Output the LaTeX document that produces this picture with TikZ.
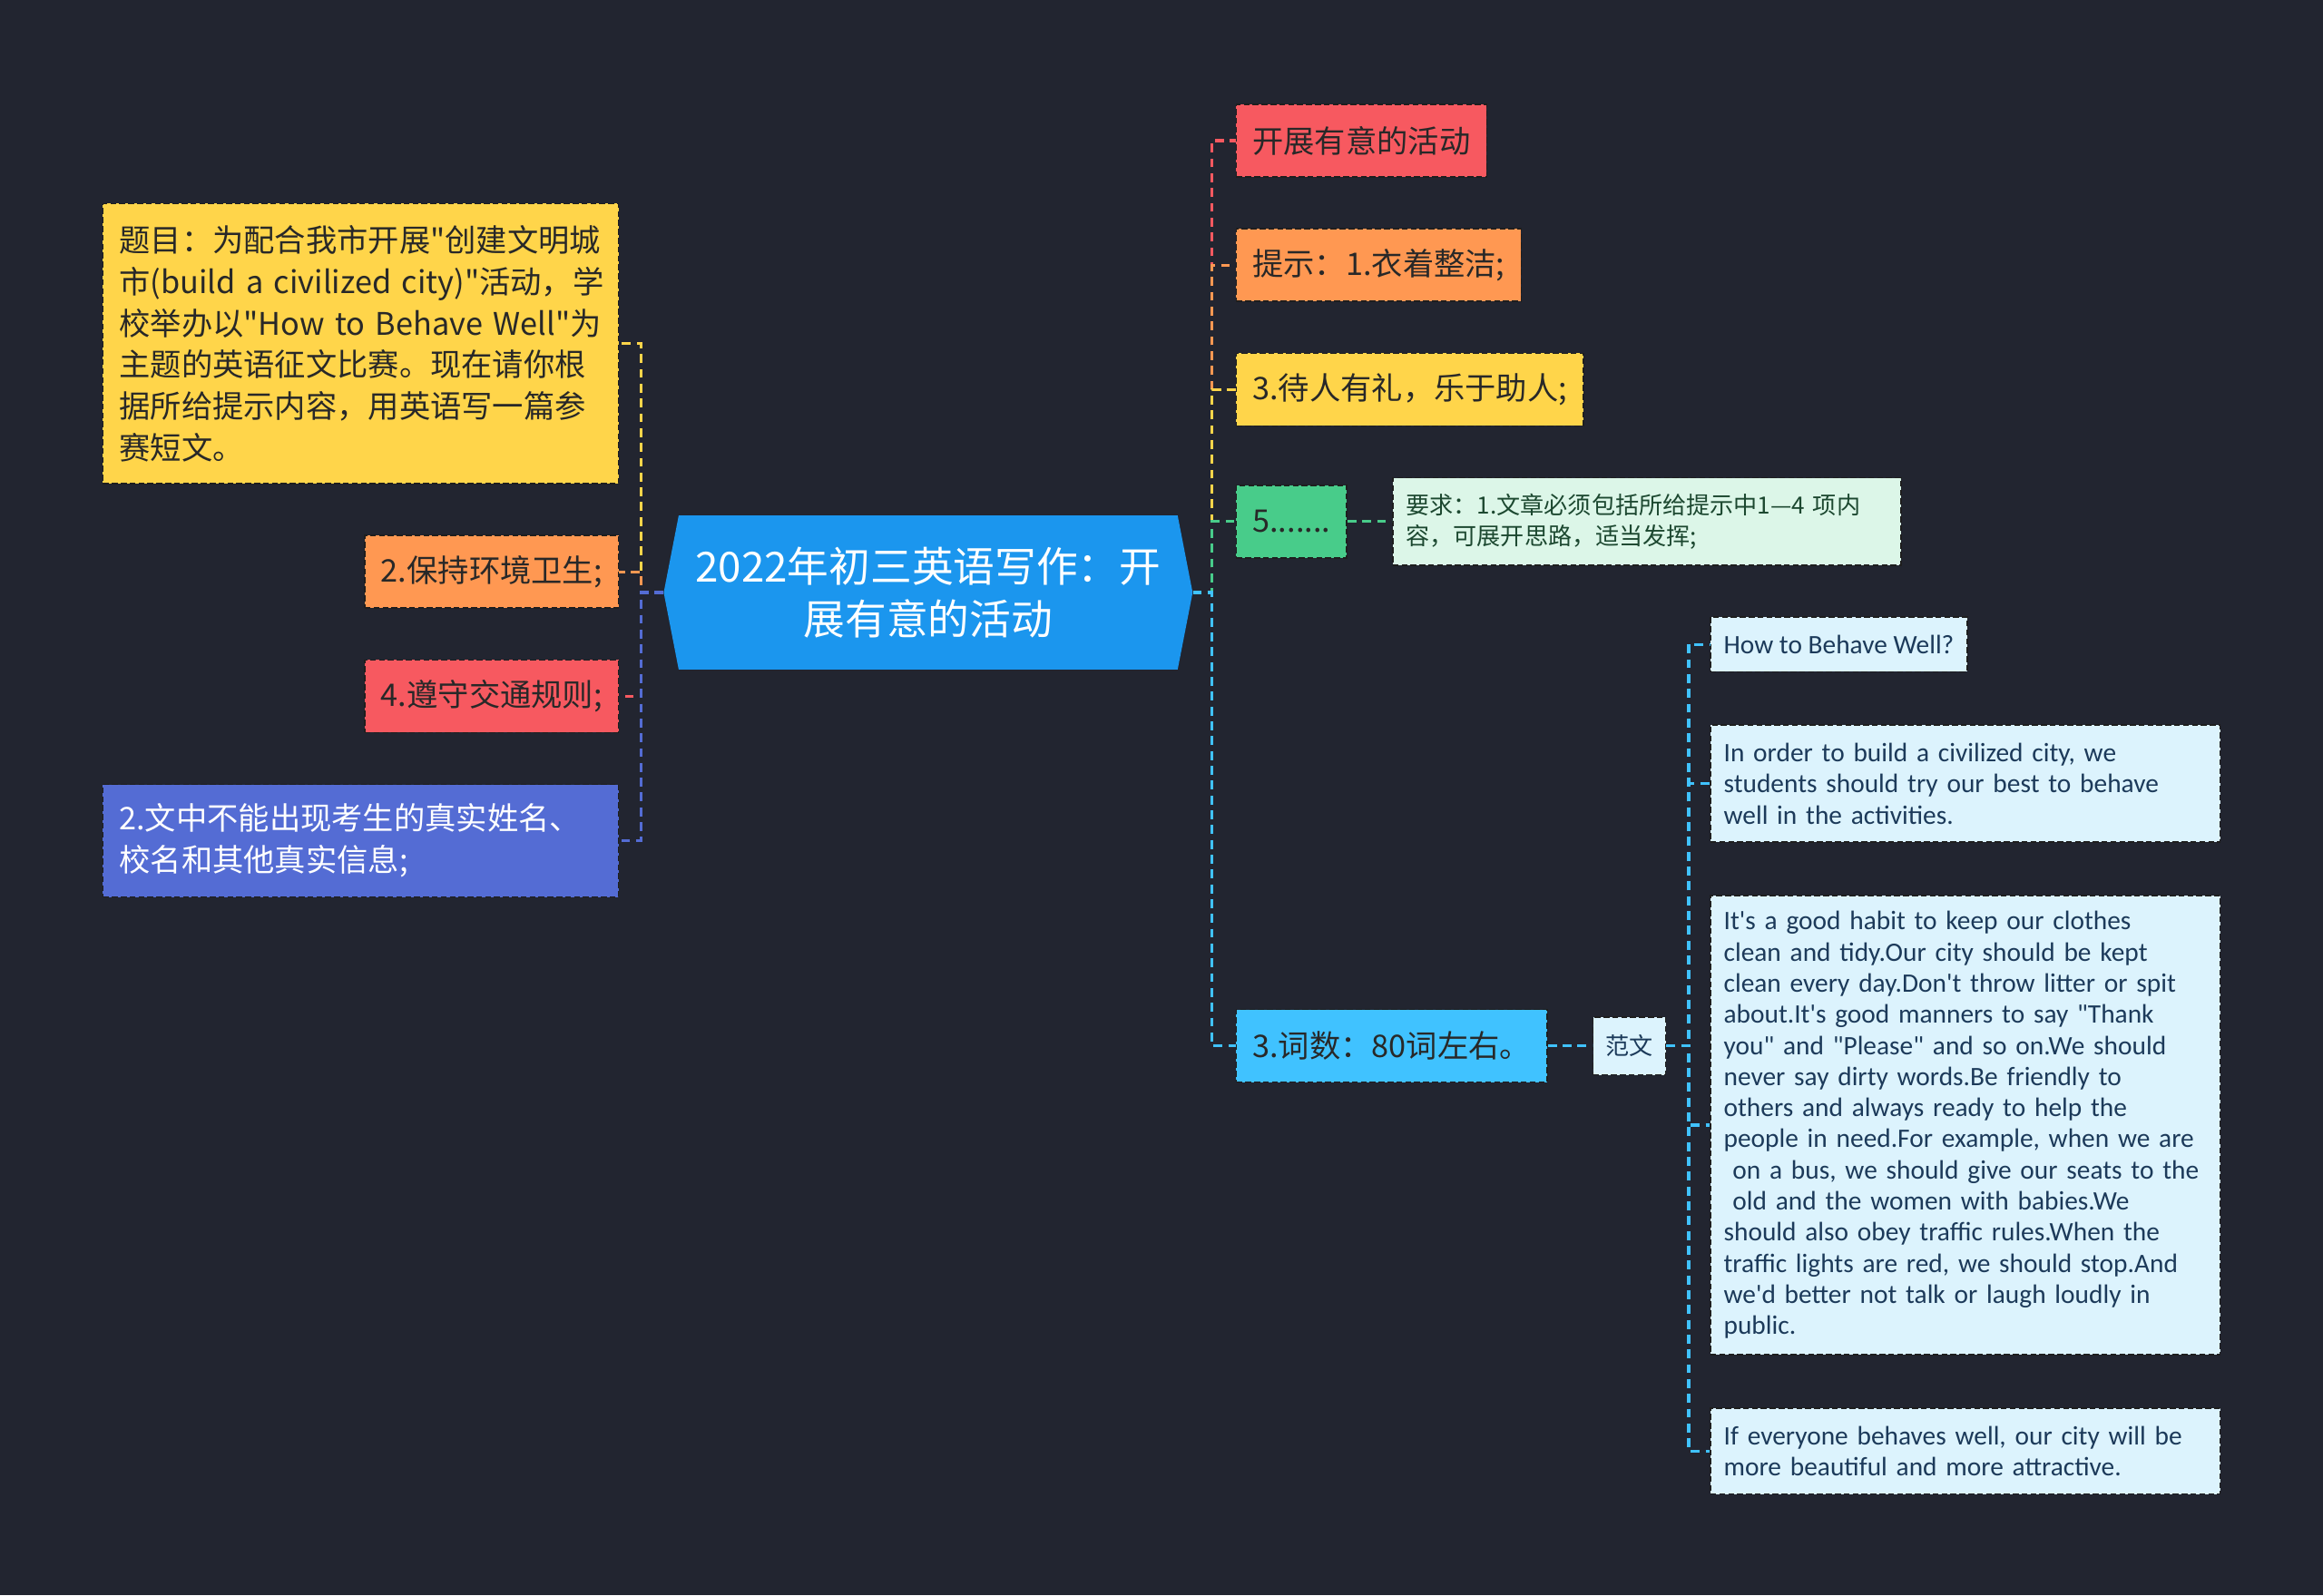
\documentclass[tikz,border=0pt]{standalone}
\usepackage{fontspec}
\newfontfamily\latin{Carlito}
\newfontfamily\cjk{Noto Sans CJK SC}
\usetikzlibrary{positioning,shapes.symbols}

\definecolor{canvas}{RGB}{34,37,48}
\definecolor{coreblue}{RGB}{27,150,238}
\definecolor{myyellow}{RGB}{255,213,74}
\definecolor{myorange}{RGB}{255,152,82}
\definecolor{myred}{RGB}{247,89,96}
\definecolor{mypurple}{RGB}{84,108,212}
\definecolor{mygreen}{RGB}{72,204,138}
\definecolor{myblue}{RGB}{64,194,255}
\definecolor{paleblue}{RGB}{220,243,253}
\definecolor{palegreen}{RGB}{220,246,232}
\definecolor{boxline}{RGB}{30,30,30}
\definecolor{ink}{RGB}{40,40,40}
\definecolor{navyink}{RGB}{28,58,90}
\definecolor{greenink}{RGB}{28,72,48}

\begin{document}
\begin{tikzpicture}[x=1pt,y=-1pt,
 box/.style={draw=boxline,dash pattern=on 4pt off 2pt,line width=1pt,inner xsep=11pt,inner ysep=5pt,minimum height=49pt,font=\cjk\fontsize{21pt}{28pt}\selectfont,text=ink},
 note/.style={box,font=\latin\fontsize{18pt}{21pt}\selectfont,text=navyink,fill=paleblue,inner xsep=9pt,minimum height=37pt},
 link/.style={line width=2pt,dash pattern=on 6pt off 4pt}]
\fill[canvas] (0,0) rectangle (1568,1077);
\node[signal,signal to=west and east,signal pointer angle=158,fill=coreblue,text=white,minimum width=357pt,minimum height=104pt,align=center,
 font=\cjk\fontsize{28pt}{36pt}\selectfont] (core) at (626.5,400) {2022年初三英语写作：开\\展有意的活动};
% left side
\node[box,fill=myyellow,text width=326pt,align=left,minimum height=189pt,anchor=north east] (title) at (418,137)
 {题目：为配合我市开展"创建文明城\\\mbox{市(build a civilized city)"活动，学}\\校举办以"How to Behave Well"为\\主题的英语征文比赛。现在请你根\\据所给提示内容，用英语写一篇参\\赛短文。};
\node[box,fill=myorange,below=34pt of title.south east,anchor=north east] (clean) {2.保持环境卫生;};
\node[box,fill=myred,below=34pt of clean.south east,anchor=north east] (traffic) {4.遵守交通规则;};
\node[box,fill=mypurple,text=white,text width=326pt,align=left,minimum height=76pt,below=34pt of traffic.south east,anchor=north east] (privacy)
 {2.文中不能出现考生的真实姓名、\\校名和其他真实信息;};
% right side
\node[box,fill=myred,anchor=north west] (theme) at (834,70) {开展有意的活动};
\node[box,fill=myorange,below=34pt of theme.south west,anchor=north west] (hint) {提示：1.衣着整洁;};
\node[box,fill=myyellow,below=34pt of hint.south west,anchor=north west] (polite) {3.待人有礼，乐于助人;};
\node[box,fill=mygreen,below=39pt of polite.south west,anchor=north west] (more) {5.......};
\node[box,fill=palegreen,text=greenink,font=\cjk\fontsize{16pt}{21pt}\selectfont,inner xsep=9pt,text width=325pt,align=left,minimum height=59pt,right=30pt of more] (demand)
 {要求：1.文章必须包括所给提示中1—4 项内\\容，可展开思路，适当发挥;};
\node[box,fill=myblue,anchor=west] (count) at (834,706) {3.词数：80词左右。};
\node[box,fill=paleblue,text=navyink,font=\cjk\fontsize{16pt}{21pt}\selectfont,inner xsep=8.5pt,minimum height=39pt,right=30pt of count] (sample) {范文};
% sample essay
\node[note,anchor=north west] (s1) at (1154,416) {How to Behave Well?};
\node[note,text width=326pt,align=left,minimum height=79pt,below=35pt of s1.south west,anchor=north west] (s2)
 {In order to build a civilized city, we\\students should try our best to behave\\well in the activities.};
\node[note,text width=326pt,align=left,minimum height=310pt,below=35pt of s2.south west,anchor=north west] (s3)
 {It's a good habit to keep our clothes\\clean and tidy.Our city should be kept\\clean every day.Don't throw litter or spit\\about.It's good manners to say "Thank\\you" and "Please" and so on.We should\\never say dirty words.Be friendly to\\others and always ready to help the\\people in need.For example, when we are\\\ on a bus, we should give our seats to the\\\ old and the women with babies.We\\should also obey traffic rules.When the\\traffic lights are red, we should stop.And\\we'd better not talk or laugh loudly in\\public.};
\node[note,text width=326pt,align=left,minimum height=58pt,below=35pt of s3.south west,anchor=north west] (s4)
 {If everyone behaves well, our city will be\\more beautiful and more attractive.};
% connectors
\foreach \n/\c in {title/myyellow,clean/myorange,traffic/myred,privacy/mypurple}
 \draw[link,\c] (core.west) -- ++(-15,0) |- (\n.east);
\foreach \n/\c in {theme/myred,hint/myorange,polite/myyellow,more/mygreen,count/myblue}
 \draw[link,\c] (core.east) -- ++(13,0) |- (\n.west);
\draw[link,mygreen] (more.east) -- (more.east -| demand.west);
\draw[link,myblue] (count) -- (sample);
\foreach \n in {s1,s2,s3,s4}
 \draw[link,myblue] (sample.east) -- ++(15,0) |- (\n.west);
\end{tikzpicture}
\end{document}
